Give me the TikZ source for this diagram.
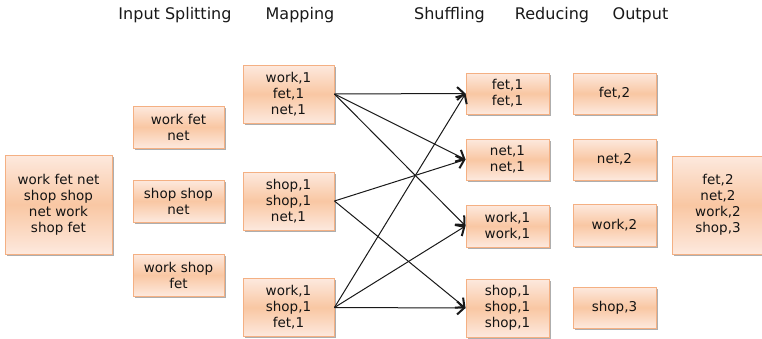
\documentclass[tikz,border=0pt]{standalone}
\usepackage{fontspec}
\setmainfont{DejaVu Sans}
\usetikzlibrary{shadows,arrows.meta}

\definecolor{boxedge}{HTML}{F4B083}
\definecolor{boxlight}{HTML}{FDE9DE}
\definecolor{boxmid}{HTML}{F9C7A3}

\tikzset{
  blk/.style={draw=boxedge, line width=0.9pt, rectangle, inner sep=0pt,
    top color=boxlight, bottom color=boxlight, middle color=boxmid,
    drop shadow={shadow xshift=1.6pt, shadow yshift=-1.8pt, fill=black!45, opacity=0.7},
    align=center, font=\fontsize{13.5}{16}\selectfont, text=black!92},
  hdr/.style={font=\fontsize{16}{19}\selectfont, text=black!90},
  arr/.style={draw=black!90, line width=1pt,
    -{Straight Barb[length=7pt,width=13pt,line width=2pt]}}
}

\begin{document}
\begin{tikzpicture}[x=1pt,y=-1pt]
  % page frame
  \path[fill=white] (0,0) rectangle (762,338);
  \useasboundingbox (0,0) rectangle (762,338);

  % column headings
  \node[hdr] (hin)  at (175,15)   {Input Splitting};
  \node[hdr] (hmap) at (300,15)   {Mapping};
  \node[hdr] (hsh)  at (449.5,15) {Shuffling};
  \node[hdr] (hred) at (552,15)   {Reducing};
  \node[hdr] (hout) at (640.5,15) {Output};

  % input
  \node[blk, minimum width=107pt, minimum height=99pt] (in) at (58.5,204.5)
    {work fet net\\shop shop\\net work\\shop fet};

  % splitting
  \node[blk, minimum width=91pt, minimum height=42pt] (s1) at (178.5,127) {work fet\\net};
  \node[blk, minimum width=91pt, minimum height=42pt] (s2) at (178.5,201) {shop shop\\net};
  \node[blk, minimum width=91pt, minimum height=42pt] (s3) at (178.5,275) {work shop\\fet};

  % mapping
  \node[blk, minimum width=91pt, minimum height=58pt] (m1) at (288.5,94)  {work,1\\fet,1\\net,1};
  \node[blk, minimum width=91pt, minimum height=58pt] (m2) at (288.5,201) {shop,1\\shop,1\\net,1};
  \node[blk, minimum width=91pt, minimum height=58pt] (m3) at (288.5,307.5) {work,1\\shop,1\\fet,1};

  % shuffling
  \node[blk, minimum width=83pt, minimum height=41pt] (h1) at (507.5,93.5)  {fet,1\\fet,1};
  \node[blk, minimum width=83pt, minimum height=41pt] (h2) at (507.5,159.5) {net,1\\net,1};
  \node[blk, minimum width=83pt, minimum height=42pt] (h3) at (507.5,226)   {work,1\\work,1};
  \node[blk, minimum width=83pt, minimum height=58pt] (h4) at (507.5,308)   {shop,1\\shop,1\\shop,1};

  % reducing
  \node[blk, minimum width=83pt, minimum height=41pt] (r1) at (614.5,93.5)  {fet,2};
  \node[blk, minimum width=83pt, minimum height=41pt] (r2) at (614.5,159.5) {net,2};
  \node[blk, minimum width=83pt, minimum height=42pt] (r3) at (614.5,225)   {work,2};
  \node[blk, minimum width=83pt, minimum height=41pt] (r4) at (614.5,307.5) {shop,3};

  % output
  \node[blk, minimum width=92pt, minimum height=98pt] (out) at (718,205)
    {fet,2\\net,2\\work,2\\shop,3};

  % shuffle connectors
  \draw[arr] (m1.east) -- (h1.west);
  \draw[arr] (m1.east) -- (h2.west);
  \draw[arr] (m1.east) -- (h3.west);
  \draw[arr] (m2.east) -- (h2.west);
  \draw[arr] (m2.east) -- (h4.west);
  \draw[arr] (m3.east) -- (h1.west);
  \draw[arr] (m3.east) -- (h3.west);
  \draw[arr] (m3.east) -- (h4.west);
\end{tikzpicture}
\end{document}
